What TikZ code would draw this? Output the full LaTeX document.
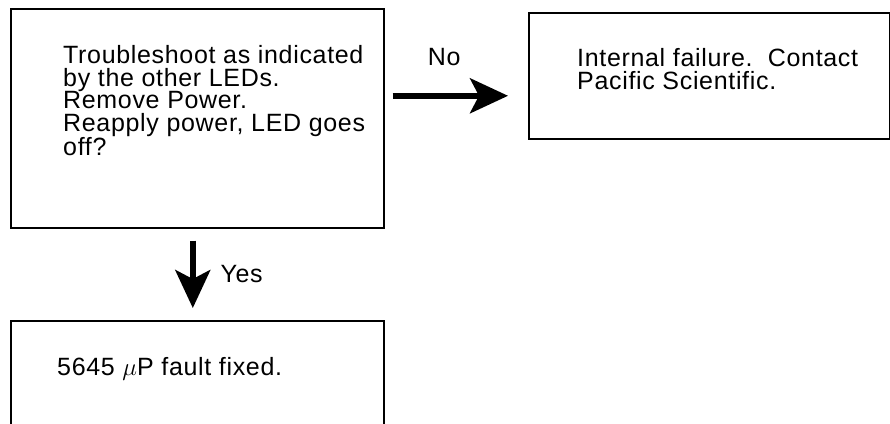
\documentclass[tikz,border=0pt]{standalone}
\usepackage{fontspec}
\setmainfont{Liberation Sans}[LetterSpace=2.7]
\usepackage{tikz}
\usetikzlibrary{arrows.meta, positioning}
\newcommand{\chartfont}{\fontsize{25}{22.8}\selectfont}

\begin{document}
\begin{tikzpicture}[
    x=1pt, y=1pt,
    box/.style={draw, line width=1.6pt, minimum width=373pt, inner sep=0pt},
    txt/.style={font=\chartfont, align=left, inner sep=0pt},
    arr/.style={-{Stealth[length=38pt, width=35pt, inset=9pt]}, line width=5.5pt},
    lbl/.style={font=\chartfont, inner sep=0pt}
]
\useasboundingbox (0,0) rectangle (890,-423);

\node[box, minimum height=219pt, anchor=north west] (check) at (10,-8) {};
\node[box, minimum width=361pt, minimum height=126pt, anchor=north west] (fail) at (528,-12) {};
\node[box, minimum height=150pt, anchor=north west] (fixed) at (10,-320) {};

\node[txt, below right=37pt and 53pt of check.north west] (checktxt)
    {Troubleshoot as indicated\\
     by the other LEDs.\\
     Remove Power.\\
     Reapply power, LED goes\\
     off?};

\node[txt, below right=36pt and 49pt of fail.north west] (failtxt)
    {Internal failure.\ \ Contact\\
     Pacific Scientific.};

\node[txt, below right=37pt and 47pt of fixed.north west] (fixedtxt)
    {5645 $\mu$P fault fixed.};

\draw[arr] ([shift={(8,22.5)}]check.east) -- ([shift={(-20,-20)}]fail.west)
    node[midway, above=27pt, xshift=-6pt, lbl] (no) {No};

\draw[arr] ([shift={(-4.5,-12)}]check.south) -- ([shift={(-4.5,12)}]fixed.north)
    node[midway, right=25pt, lbl] (yes) {Yes};

\end{tikzpicture}
\end{document}
